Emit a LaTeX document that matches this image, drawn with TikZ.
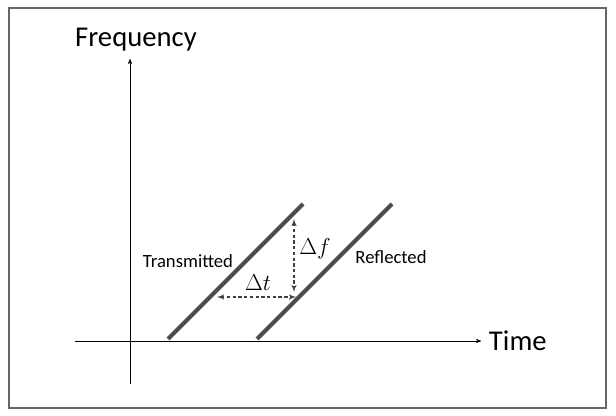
\documentclass[tikz,border=0pt]{standalone}
\usepackage{fontspec}
\setmainfont{Carlito}
\usetikzlibrary{arrows}
\usetikzlibrary{calc}

\begin{document}
\begin{tikzpicture}[x=0.75pt,y=-0.75pt]
            \useasboundingbox (0,0) rectangle (616,416);
            \draw[gray!80!black,line width=1.1pt] (9,8) rectangle (606,408);
            \begin{scope}[>=stealth',thick, sweep/.style={line width=3pt,draw=black!70},
                gap/.style={<->,line width=0.8pt,dash pattern=on 2.5pt off 1.8pt,draw=black!75,>=latex'}]
            % axes
            \coordinate (o) at (130,341);
            \coordinate (xl) at (75,341);
            \coordinate (xr) at (481,341);
            \coordinate (yb) at (130,384);
            \coordinate (yt) at (130,59);
            \draw[->,thin] (xl) -- (xr);
            \draw[->,thin] (yb) -- (yt);
            \node[font=\fontsize{21.5}{26}\selectfont] (freq) at (136,40) {Frequency};
            \node[font=\fontsize{21.5}{26}\selectfont,anchor=west] (time) at (484,341) {Time};
            % chirps
            \coordinate (t1) at (168,339);
            \coordinate (t2) at (303,204);
            \coordinate (r1) at (257,339);
            \coordinate (r2) at (392,204);
            \draw[sweep] (t1) -- (t2);
            \draw[sweep] (r1) -- (r2);
            \node[font=\fontsize{14}{17}\selectfont] (tx) at (188,261) {Transmitted};
            \node[font=\fontsize{14}{17}\selectfont] (rx) at (391,257) {Reflected};
            % delays
            \coordinate (fa) at (294,219);
            \coordinate (fb) at (294,292);
            \coordinate (ta) at (217,297);
            \coordinate (tb) at (296,297);
            \draw[gap] (fa) -- (fb);
            \draw[gap] (ta) -- (tb);
            \node[font=\LARGE] (dt) at (258,283) {$\Delta t$};
            \node[font=\LARGE] (df) at (315,249) {$\Delta f$};
            \end{scope}
        \end{tikzpicture}
\end{document}
